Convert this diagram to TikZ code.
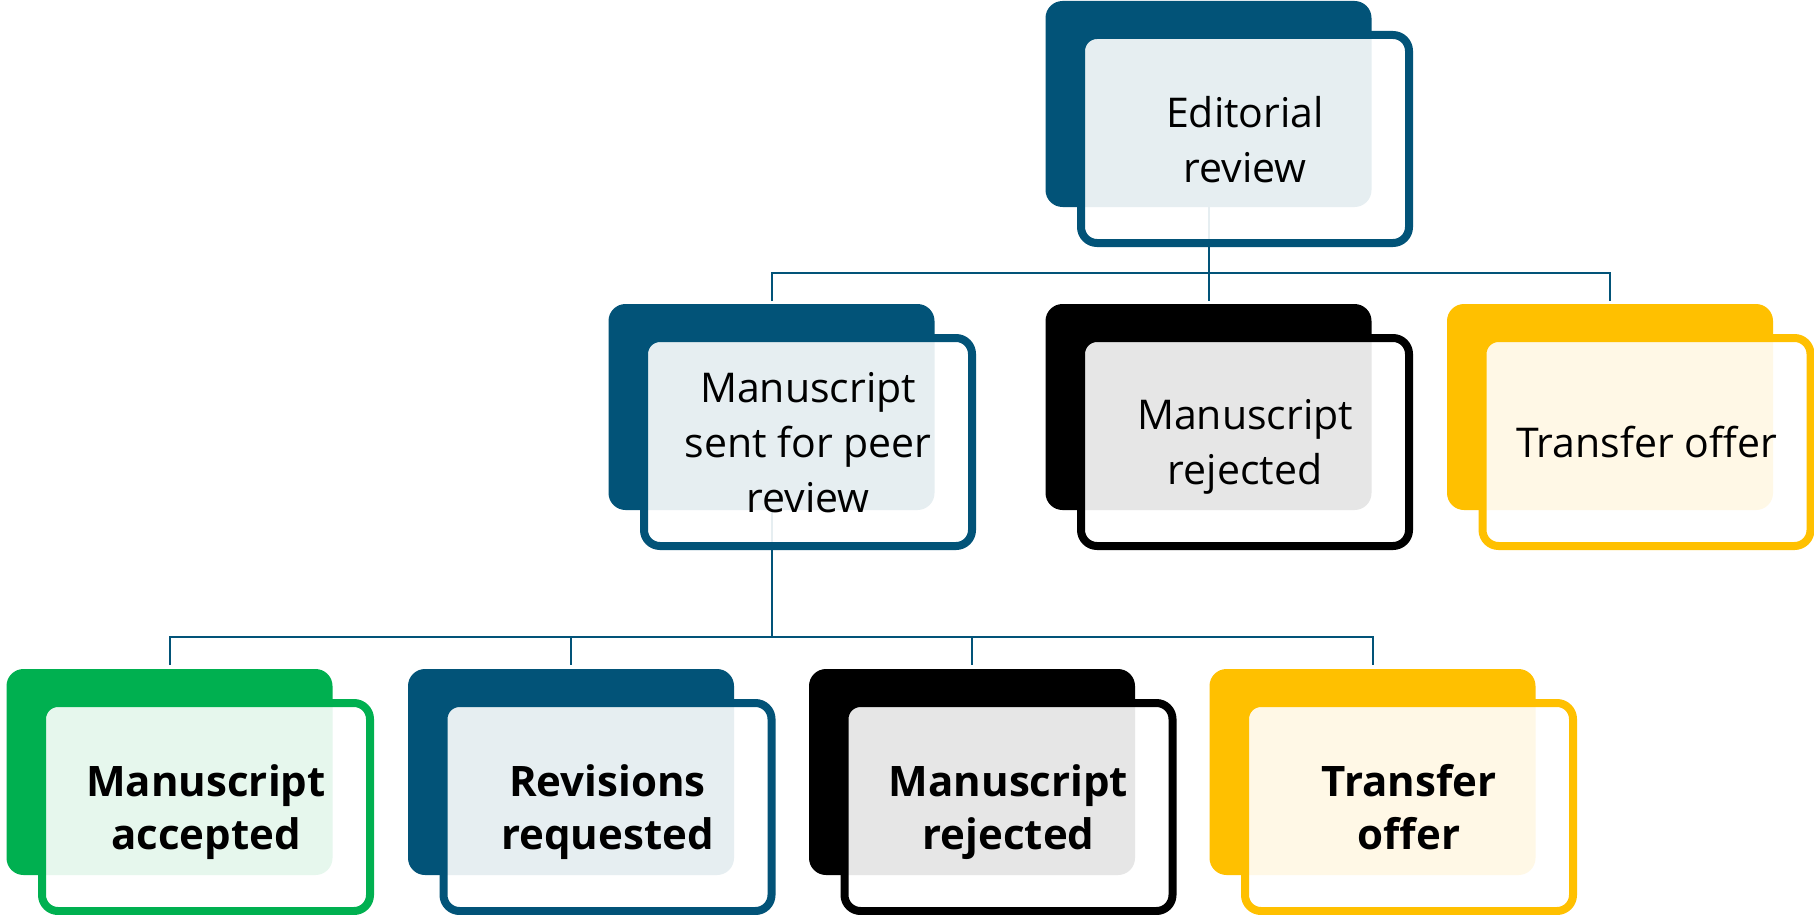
\documentclass[tikz,border=0pt]{standalone}
\usepackage{fontspec}
\setmainfont{Open Sans}
\usetikzlibrary{calc}
\definecolor{cblue}{RGB}{2,83,120}
\definecolor{cgreen}{RGB}{0,176,80}
\definecolor{cyellow}{RGB}{255,192,0}
\definecolor{cblack}{RGB}{0,0,0}
\begin{document}
\begin{tikzpicture}[x=0.5pt,y=-0.5pt,
 backbox/.style={rectangle, rounded corners=8.5pt, minimum width=163pt, minimum height=103pt, inner sep=0pt, outer sep=0pt, fill=#1},
 frontbox/.style={rectangle, rounded corners=8pt, draw=#1, line width=4pt, fill=white, fill opacity=0.9, text opacity=1, minimum width=164pt, minimum height=104pt, inner sep=0pt, outer sep=0pt, align=center, text depth=0pt, xshift=18.25pt, yshift=-17.5pt},
 lbl/.style={font=\fontsize{20.5}{27.5}\selectfont},
 blbl/.style={font=\fontsize{21}{26.5}\selectfont\bfseries},
 conn/.style={draw=cblue, line width=1pt, line join=miter},
]
\useasboundingbox[fill=white] (0,0) rectangle (1814,915);

% back boxes
\node[backbox=cblue] (tb) at (1208.5,104) {};
\node[backbox=cblue] (mA) at (771.5,407) {};
\node[backbox=cblack] (mB) at (1208.5,407) {};
\node[backbox=cyellow] (mC) at (1610,407) {};
\node[backbox=cgreen] (bA) at (169.5,772) {};
\node[backbox=cblue] (bB) at (571,772) {};
\node[backbox=cblack] (bC) at (972,772) {};
\node[backbox=cyellow] (bD) at (1372.5,772) {};

% connectors
\coordinate (j1) at (1208.5,273);
\coordinate (j2) at (771.5,637);
\draw[conn] (tb.south) -- (j1);
\draw[conn] ($(mA.north)+(0,-3)$) -- (mA.north |- j1) -- (mC.north |- j1) -- ($(mC.north)+(0,-3)$);
\draw[conn] (j1) -- ($(mB.north)+(0,-3)$);
\draw[conn] (mA.south) -- (j2);
\draw[conn] ($(bA.north)+(0,-4)$) -- (bA.north |- j2) -- (bD.north |- j2) -- ($(bD.north)+(0,-4)$);
\draw[conn] (bB.north |- j2) -- ($(bB.north)+(0,-4)$);
\draw[conn] (bC.north |- j2) -- ($(bC.north)+(0,-4)$);

% front boxes
\node[frontbox=cblue, lbl] (tf) at (tb.center) {Editorial\\review};
\node[frontbox=cblue, lbl] (mAf) at (mA.center) {Manuscript\\sent for peer\\review};
\node[frontbox=cblack, lbl] (mBf) at (mB.center) {Manuscript\\rejected};
\node[frontbox=cyellow, lbl] (mCf) at (mC.center) {Transfer offer};
\node[frontbox=cgreen, blbl] (bAf) at (bA.center) {Manuscript\\accepted};
\node[frontbox=cblue, blbl] (bBf) at (bB.center) {Revisions\\requested};
\node[frontbox=cblack, blbl] (bCf) at (bC.center) {Manuscript\\rejected};
\node[frontbox=cyellow, blbl] (bDf) at (bD.center) {Transfer\\offer};
\end{tikzpicture}
\end{document}
